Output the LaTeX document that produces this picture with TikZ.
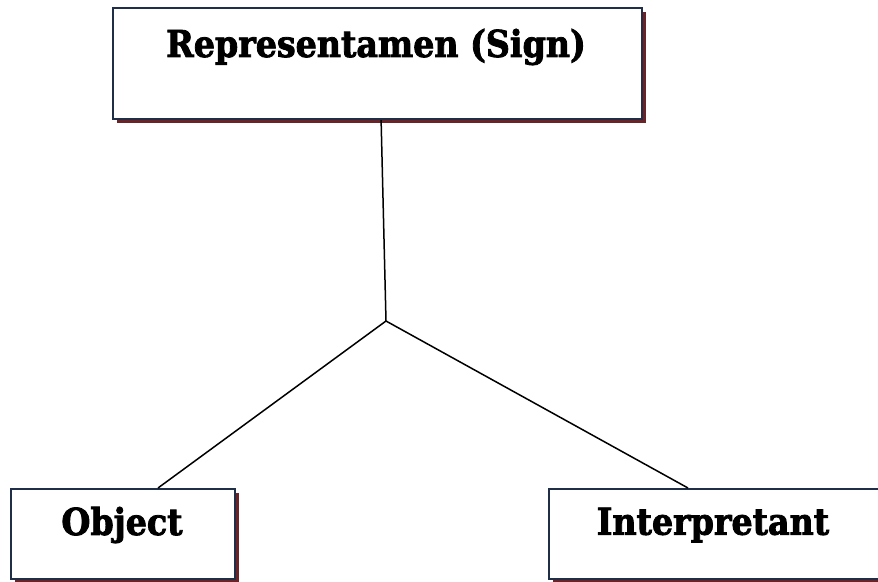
\documentclass[tikz,border=0pt]{standalone}
\usepackage{fontspec}
\setmainfont{DejaVu Serif Condensed}[BoldFeatures={FakeBold=2.2}]
\usetikzlibrary{shadows}
\definecolor{boxline}{HTML}{1F2F47}
\definecolor{shadowred}{HTML}{6A2326}
\tikzset{
  box/.style={draw=boxline, line width=2.2pt, fill=white, rectangle, inner sep=0pt,
    drop shadow={shadow xshift=3.5pt, shadow yshift=-3.5pt, fill=shadowred, opacity=1}},
  lbl/.style={font=\bfseries\fontsize{37}{40}\selectfont, inner sep=0pt},
  link/.style={line width=1.5pt, black}
}
\begin{document}
\begin{tikzpicture}[x=1pt,y=-1pt]
  \useasboundingbox (0,0) rectangle (878,581);
  % boxes
  \node[box, minimum width=529pt, minimum height=111pt, anchor=north west] (sign) at (112,7) {};
  \node[box, minimum width=224pt, minimum height=90pt, anchor=north west] (obj) at (10,488) {};
  \node[box, minimum width=345pt, minimum height=90pt, anchor=north west] (interp) at (548,488) {};
  % labels
  \node[lbl] (signtxt) at (376,47) {Representamen (Sign)};
  \node[lbl] (objtxt) at (122,525) {Object};
  \node[lbl] (interptxt) at (713,525) {Interpretant};
  % connectors
  \coordinate (j) at (386,321);
  \coordinate (objtop) at (158,488);
  \coordinate (interptop) at (688,488);
  \draw[link] ([xshift=3.5pt]sign.south) -- (j);
  \draw[link] (j) -- (objtop);
  \draw[link] (j) -- (interptop);
\end{tikzpicture}
\end{document}
